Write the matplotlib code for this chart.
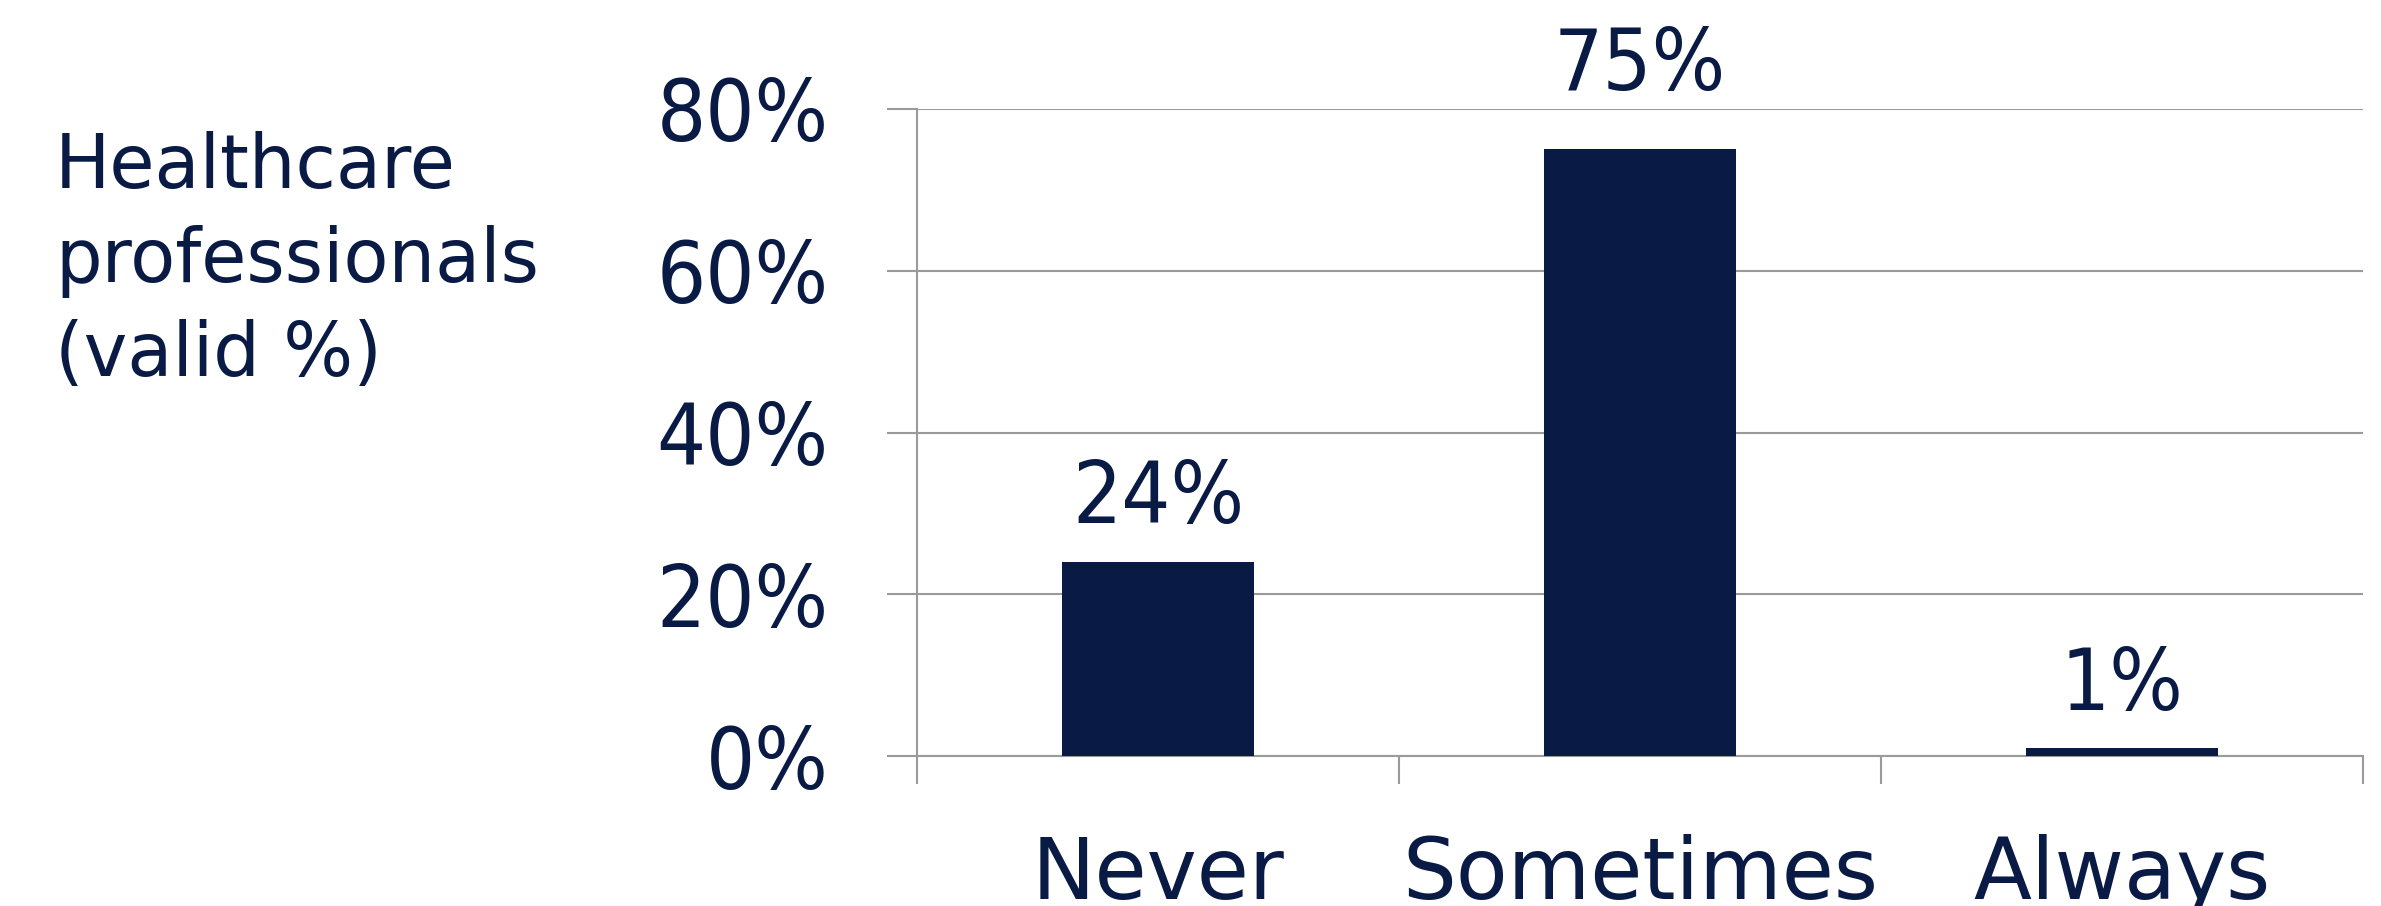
import numpy as np
import matplotlib
matplotlib.use("Agg")
import matplotlib.pyplot as plt

categories = ["Never", "Sometimes", "Always"]
values = [24, 75, 1]
bar_labels = ["24%", "75%", "1%"]
y_ticks = [0, 20, 40, 60, 80]
y_tick_labels = ["0%", "20%", "40%", "60%", "80%"]
side_title = "Healthcare\nprofessionals\n(valid %)"

navy = "#091a45"
grey = "#9a9a9a"
label_offsets = [28, 43, 27]   # points above bar top

fig = plt.figure(figsize=(23.81, 9.06), dpi=100)
ax = fig.add_axes([917/2381, 150/906, 1446/2381, 647/906])

x = np.arange(len(categories))
ax.bar(x, values, width=0.4, color=navy, zorder=3)

ax.set_xlim(-0.5, len(categories) - 0.5)
ax.set_ylim(0, 80)

ax.set_yticks(y_ticks)
ax.set_yticklabels(y_tick_labels, fontstretch="condensed")
ax.yaxis.grid(True, color=grey, linewidth=1.5, zorder=0)
ax.tick_params(axis="y", length=21.6, width=1.5, color=grey, pad=42,
               labelsize=62, labelcolor=navy)

# category boundaries as major ticks, names as minor ticks
ax.set_xticks(np.arange(len(categories) + 1) - 0.5)
ax.set_xticklabels([])
ax.set_xticks(x, minor=True)
ax.set_xticklabels(categories, minor=True)
ax.tick_params(axis="x", which="major", length=20.5, width=1.5, color=grey)
ax.tick_params(axis="x", which="minor", length=0, pad=56,
               labelsize=61, labelcolor=navy)

for s in ["top", "right"]:
    ax.spines[s].set_visible(False)
for s in ["left", "bottom"]:
    ax.spines[s].set_color(grey)
    ax.spines[s].set_linewidth(1.5)

for xi, v, lab, off in zip(x, values, bar_labels, label_offsets):
    ax.annotate(lab, (xi, v), xytext=(0, off), textcoords="offset points",
                ha="center", va="baseline", fontsize=62, color=navy,
                fontstretch="condensed")

fig.text(55/2381, 1 - 131/906, side_title, ha="left", va="top",
         fontsize=53, color=navy, linespacing=1.37)

plt.savefig("out.png", dpi=100)
